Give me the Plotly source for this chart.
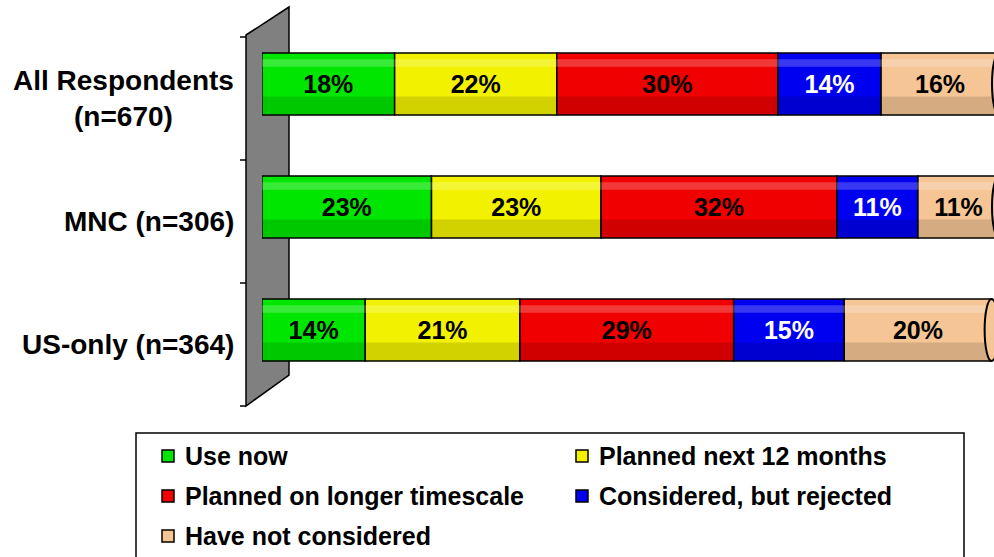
import plotly.graph_objects as go
import numpy as np

# ---- data ----
categories = ["All Respondents<br>(n=670)", "MNC (n=306)", "US-only (n=364)"]
series_names = ["Use now", "Planned next 12 months", "Planned on longer timescale",
                "Considered, but rejected", "Have not considered"]
use_now = [18, 23, 14]
planned_12m = [22, 23, 21]
planned_longer = [30, 32, 29]
considered_rejected = [14, 11, 15]
not_considered = [16, 11, 20]

series_values = [use_now, planned_12m, planned_longer, considered_rejected, not_considered]
colors = ["#00E600", "#F2F200", "#F00000", "#0000F0", "#F5C596"]
text_colors = ["black", "black", "black", "white", "black"]

W, H = 994, 557
FONT = "Liberation Sans, Arial, sans-serif"


def px(x):
    return x / W


def py(y):
    return 1 - y / H


n_cat = len(categories)
idx = list(range(n_cat))
bar_w = 0.504

fig = go.Figure()
cum = np.zeros(n_cat)
for name, vals, col, tcol in zip(series_names, series_values, colors, text_colors):
    fig.add_trace(go.Bar(
        y=idx, x=vals, base=cum.copy(), orientation="h", name=name,
        width=bar_w,
        marker=dict(color=col, line=dict(color="black", width=1.5)),
        text=[f"{v}%" for v in vals], textposition="inside",
        insidetextanchor="middle", textangle=0, constraintext="none",
        textfont=dict(family=FONT, size=25, color=tcol, weight="bold"),
        showlegend=False, hoverinfo="skip",
    ))
    cum = cum + np.array(vals)

totals = cum
# cylinder-like shading overlays
band = 0.30 * bar_w
fig.add_trace(go.Bar(y=idx, x=totals, base=[0] * n_cat, orientation="h",
                     width=band, offset=bar_w / 2 - band,
                     marker=dict(color="rgba(0,0,0,0.13)", line=dict(width=0)),
                     showlegend=False, hoverinfo="skip"))
hl = 0.12 * bar_w
fig.add_trace(go.Bar(y=idx, x=totals, base=[0] * n_cat, orientation="h",
                     width=hl, offset=-bar_w / 2 + 0.10 * bar_w,
                     marker=dict(color="rgba(255,255,255,0.22)", line=dict(width=0)),
                     showlegend=False, hoverinfo="skip"))

shapes = []
# grey back wall
shapes.append(dict(type="path", xref="paper", yref="paper", layer="below",
                   path=f"M {px(246)},{py(35)} L {px(289)},{py(7)} L {px(289)},{py(375)} L {px(246)},{py(406)} Z",
                   fillcolor="#808080", line=dict(color="black", width=1.5)))
# axis tick marks
for i in range(n_cat + 1):
    yy = 37 + i * 123
    shapes.append(dict(type="line", xref="paper", yref="paper",
                       x0=px(240), x1=px(246), y0=py(yy), y1=py(yy),
                       line=dict(color="black", width=1.5)))
# cylinder end caps
for i, t in enumerate(totals):
    shapes.append(dict(type="circle", xref="x", yref="y",
                       x0=t - 0.95, x1=t + 0.95, y0=i - bar_w / 2, y1=i + bar_w / 2,
                       fillcolor="#F5C596", line=dict(color="black", width=2)))

# legend box
shapes.append(dict(type="rect", xref="paper", yref="paper",
                   x0=px(136), x1=px(964), y0=py(433), y1=py(600),
                   line=dict(color="black", width=1.5), fillcolor="white"))

annotations = []
for i, cat in enumerate(categories):
    annotations.append(dict(text=cat, x=px(236), xref="paper", xanchor="right",
                            y=i, yref="y", yshift=-14, showarrow=False,
                            align="center",
                            font=dict(family=FONT, size=28, color="black", weight="bold")))

for k, (name, col) in enumerate(zip(series_names, colors)):
    c, r = k % 2, k // 2
    cy = 456 + r * 40
    mx = 162 + c * 414
    shapes.append(dict(type="rect", xref="paper", yref="paper",
                       x0=px(mx), x1=px(mx + 12), y0=py(cy - 6), y1=py(cy + 6),
                       fillcolor=col, line=dict(color="black", width=1.5)))
    annotations.append(dict(text=name, x=px(mx + 21), xref="paper", xanchor="left",
                            y=py(cy), yref="paper", yanchor="middle", showarrow=False,
                            font=dict(family=FONT, size=25, color="black", weight="bold")))

fig.update_layout(
    width=W, height=H, margin=dict(l=0, r=0, t=0, b=0),
    paper_bgcolor="white", plot_bgcolor="rgba(0,0,0,0)",
    barmode="overlay", showlegend=False,
    xaxis=dict(domain=[px(262), 1], range=[0, (W - 262) / 7.37], visible=False),
    yaxis=dict(domain=[0, 1], range=[-0.683 + H / 123, -0.683], visible=False),
    shapes=shapes, annotations=annotations,
)

fig.write_html("out.html")
